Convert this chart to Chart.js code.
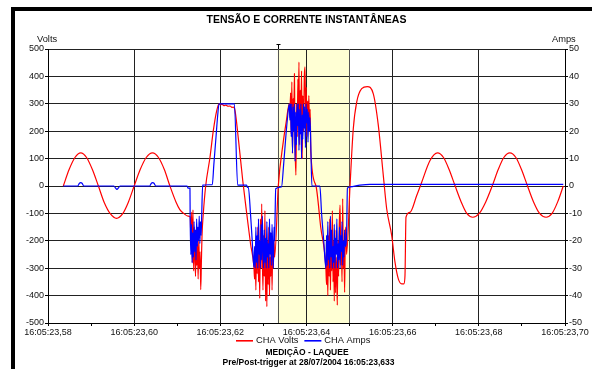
<!DOCTYPE html>
<html>
<head>
<meta charset="utf-8">
<title>Tensão e corrente instantâneas</title>
<script src="https://cdn.jsdelivr.net/npm/chart.js@4/dist/chart.umd.min.js"></script>
<style>
  html, body { margin: 0; padding: 0; background: #fff; }
  canvas { display: block; }
</style>
</head>
<body>
<canvas id="chart" width="592" height="369"></canvas>
<script>
// ---- Texts ----
const chartTitle = 'TENSÃO E CORRENTE INSTANTÂNEAS';
const footerLines = ['MEDIÇÃO - LAQUEE', 'Pre/Post-trigger at 28/07/2004 16:05:23,633'];
const leftUnit = 'Volts';
const rightUnit = 'Amps';
const seriesNames = ['CHA Volts', 'CHA Amps'];

// Time axis: milliseconds after 16:05:23,58, labelled every 20 ms
const timeLabels = ['16:05:23,58', '16:05:23,60', '16:05:23,62', '16:05:23,64',
                    '16:05:23,66', '16:05:23,68', '16:05:23,70'];

// Trigger instant and the end of the cycle that follows it (ms)
const triggerMs = 53.3;
const cycleEndMs = 69.9;

// ---- CHA Volts: [ms, V] ----
const voltsBefore = [
  [3.55, 0], [4.9, 60], [6.25, 104], [7.6, 121], [8.95, 104], [10.3, 60], [11.7, 0],
  [13.05, -60], [14.5, -102], [15.9, -118], [17.3, -102], [18.65, -59], [20.0, 0],
  [21.4, 60], [22.8, 104], [24.25, 121], [25.65, 104], [27.0, 60], [28.3, 0],
  [29.7, -58], [30.6, -86], [31.5, -100], [32.5, -110], [33.0, -113]
];
const voltsFault = [
  [33.2, -200], [33.35, -95], [33.5, -280], [33.65, -87], [33.8, -310], [33.95, -150],
  [34.1, -260], [34.25, -330], [34.4, -170], [34.55, -290], [34.7, -210], [34.85, -340],
  [35.0, -190], [35.15, -300], [35.3, -240], [35.45, -378], [35.6, -280], [35.75, -180],
  [36.05, -100], [36.6, 0], [37.6, 105], [38.37, 202], [39.16, 275], [39.7, 300],
  [40.0, 296], [40.4, 299], [40.8, 293], [41.3, 295], [41.8, 291], [42.25, 292],
  [42.7, 287], [43.0, 288], [43.3, 283],
  [44.2, 170], [45.2, 20], [46.2, -110], [47.0, -210], [47.8, -296],
  [47.95, -340], [48.1, -250], [48.25, -380], [48.4, -200], [48.55, -320], [48.7, -150],
  [48.85, -350], [49.0, -230], [49.15, -410], [49.3, -120], [49.45, -300], [49.6, -65],
  [49.75, -260], [49.9, -380], [50.05, -180], [50.2, -330], [50.35, -90], [50.5, -420],
  [50.65, -250], [50.8, -440], [50.95, -200], [51.1, -360], [51.25, -150], [51.4, -400],
  [51.55, -260], [51.7, -330], [51.85, -170], [52.0, -380], [52.15, -230], [52.3, -300],
  [52.45, -200], [52.6, -260],
  [53.45, 0], [54.6, 160], [55.3, 235], [56.0, 300],
  [56.15, 250], [56.3, 340], [56.45, 190], [56.6, 380], [56.75, 120], [56.9, 320],
  [57.05, 230], [57.2, 410], [57.35, 150], [57.55, 40], [57.7, 300], [57.85, 180],
  [58.0, 390], [58.1, 260], [58.25, 452], [58.4, 150], [58.55, 350], [58.7, 220],
  [58.85, 420], [59.0, 100], [59.15, 330], [59.3, 200], [59.5, 400], [59.65, 435],
  [59.8, 270], [59.95, 360], [60.1, 180], [60.25, 310], [60.4, 240], [60.55, 330],
  [60.7, 200], [60.85, 280], [61.0, 123],
  [62.2, 0], [63.3, -150], [64.5, -300],
  [64.65, -360], [64.8, -250], [64.95, -400], [65.1, -180], [65.25, -330], [65.4, -120],
  [65.55, -380], [65.7, -220], [65.85, -310], [66.0, -90], [66.15, -350], [66.3, -200],
  [66.45, -420], [66.6, -160], [66.75, -390], [66.9, -260], [67.05, -330], [67.15, -435],
  [67.3, -200], [67.45, -330], [67.6, -150], [67.8, -70], [67.95, -290], [68.1, -200],
  [68.25, -350], [68.4, -46], [68.55, -300], [68.7, -220], [68.85, -388], [69.0, -180],
  [69.15, -150], [69.3, -250]
];
const voltsAfter = [
  [70.1, 0], [70.86, 209], [71.65, 306], [72.81, 355], [74.11, 363], [75.51, 336],
  [76.67, 221], [77.83, 38], [78.61, -83], [79.78, -181], [80.54, -278], [81.31, -339],
  [82.1, -357], [82.63, -357], [82.86, -327], [83.09, -114], [84.02, -96], [85.58, -35],
  [86.74, 14], [88.67, 93], [90.4, 121], [91.8, 104], [93.1, 60], [94.5, 0],
  [95.9, -58], [97.2, -100], [98.6, -114], [100.1, -100], [101.6, -58], [103.1, 0],
  [104.5, 60], [105.8, 104], [107.2, 121], [108.6, 104], [109.9, 60], [111.3, 0],
  [112.7, -58], [114.1, -100], [115.6, -114], [117.0, -100], [118.3, -58], [119.6, 0]
];

// ---- CHA Amps: [ms, A] ----
const ampsBefore = [
  [3.55, 0], [6.9, 0], [7.3, 1.0], [7.6, 1.2], [7.9, 1.0], [8.3, 0],
  [15.3, 0], [15.7, -0.8], [16.0, -1.2], [16.3, -0.8], [16.7, 0],
  [23.6, 0], [24.0, 1.0], [24.3, 1.2], [24.6, 1.0], [25.0, 0],
  [32.3, 0], [32.5, -0.8], [32.95, -0.8]
];
const ampsFault = [
  [33.0, -12], [33.15, -25], [33.3, -14], [33.45, -28], [33.6, -17], [33.75, -26],
  [33.9, -13], [34.05, -24], [34.2, -16], [34.35, -27], [34.5, -12], [34.65, -22],
  [34.8, -15], [34.95, -20], [35.1, -11], [35.25, -21], [35.4, -13], [35.55, -18],
  [35.67, -11], [35.9, 0.3], [38.14, 0.5], [38.5, 8], [39.0, 18], [39.4, 26], [39.7, 30],
  [43.25, 30], [44.03, 0.3], [46.1, 0.3], [46.3, -0.5], [46.5, -0.5],
  [47.0, -10], [47.4, -20], [47.8, -29.6],
  [47.95, -22], [48.1, -30], [48.25, -15], [48.4, -28], [48.55, -18], [48.7, -30],
  [48.85, -12], [49.0, -25], [49.15, -20], [49.3, -30], [49.45, -14], [49.6, -27],
  [49.75, -11], [49.9, -24], [50.05, -30], [50.2, -16], [50.35, -28], [50.5, -19],
  [50.65, -30], [50.8, -13], [50.95, -26], [51.1, -21], [51.25, -30], [51.4, -12],
  [51.55, -25], [51.7, -17], [51.85, -29], [52.0, -14], [52.15, -23], [52.3, -30],
  [52.45, -15], [52.6, -20], [52.7, -12], [52.85, -1], [54.2, -0.3],
  [54.7, 8], [55.2, 18], [55.6, 25], [56.0, 30],
  [56.15, 24], [56.3, 30], [56.45, 18], [56.6, 30], [56.75, 12], [56.9, 29],
  [57.05, 20], [57.2, 30], [57.35, 9], [57.5, 27], [57.65, 15], [57.8, 30],
  [57.95, 22], [58.1, 30], [58.25, 13], [58.4, 28], [58.55, 19], [58.7, 30],
  [58.85, 10], [59.0, 26], [59.15, 17], [59.3, 30], [59.45, 21], [59.6, 29],
  [59.75, 14], [59.9, 30], [60.05, 23], [60.2, 28], [60.35, 16], [60.5, 27],
  [60.65, 20], [60.8, 25], [61.0, 15], [61.25, 0],
  [63.1, 0], [63.5, -10], [64.0, -20], [64.5, -30],
  [64.65, -18], [64.8, -29], [64.95, -13], [65.1, -27], [65.25, -20], [65.4, -30],
  [65.55, -11], [65.7, -26], [65.85, -16], [66.0, -30], [66.15, -22], [66.3, -28],
  [66.45, -14], [66.6, -30], [66.75, -19], [66.9, -25], [67.05, -12], [67.2, -30],
  [67.35, -21], [67.5, -27], [67.65, -15], [67.8, -30], [67.95, -18], [68.1, -24],
  [68.25, -13], [68.4, -29], [68.55, -20], [68.7, -26], [68.85, -16], [69.0, -22],
  [69.3, -18]
];
const ampsAfter = [
  [69.5, -0.8], [70.1, -0.3], [72.4, 0.3], [74.7, 0.6], [119.6, 0.6]
];

const toPoints = rows => rows.map(([x, y]) => ({ x, y }));
const voltsData = toPoints([...voltsBefore, ...voltsFault, ...voltsAfter]);
const ampsData = toPoints([...ampsBefore, ...ampsFault, ...ampsAfter]);

const FONT = '"Liberation Sans", Arial, Helvetica, sans-serif';
Chart.defaults.font.family = FONT;
Chart.defaults.color = '#000';

const GRID = '#222';
const CLEAR = 'rgba(0,0,0,0)';

// Page decorations: background, trigger window, frame, title, units, legend, footer
const decorations = {
  id: 'decorations',
  beforeDraw(chart) {
    const { ctx, chartArea: a, scales: { x } } = chart;
    ctx.save();
    ctx.fillStyle = '#fff';
    ctx.fillRect(0, 0, chart.width, chart.height);
    const x0 = x.getPixelForValue(triggerMs);
    const x1 = x.getPixelForValue(cycleEndMs);
    ctx.fillStyle = '#FFFFD4';
    ctx.fillRect(x0, a.top, x1 - x0, a.bottom - a.top);
    ctx.restore();
  },
  beforeDatasetsDraw(chart) {
    const { ctx, chartArea: a, scales: { x } } = chart;
    ctx.save();
    ctx.strokeStyle = '#555';
    ctx.lineWidth = 1;
    [triggerMs, cycleEndMs].forEach(v => {
      const px = Math.round(x.getPixelForValue(v)) + 0.5;
      ctx.beginPath();
      ctx.moveTo(px, a.top);
      ctx.lineTo(px, a.bottom);
      ctx.stroke();
    });
    ctx.restore();
  },
  afterDraw(chart) {
    const { ctx, chartArea: a, scales: { x } } = chart;
    const cx = (a.left + a.right) / 2;
    ctx.save();

    // frame
    ctx.fillStyle = '#000';
    ctx.fillRect(11, 7, chart.width - 11, 4);
    ctx.fillRect(11, 7, 4, chart.height - 7);

    // trigger marker above the plot
    const tx = Math.round(x.getPixelForValue(triggerMs)) + 0.5;
    ctx.strokeStyle = '#000';
    ctx.lineWidth = 1;
    ctx.beginPath();
    ctx.moveTo(tx, a.top - 5);
    ctx.lineTo(tx, a.top);
    ctx.moveTo(tx - 2, a.top - 4.5);
    ctx.lineTo(tx + 2, a.top - 4.5);
    ctx.stroke();

    // title
    ctx.fillStyle = '#000';
    ctx.textBaseline = 'middle';
    ctx.textAlign = 'center';
    ctx.font = 'bold 10.5px ' + FONT;
    ctx.fillText(chartTitle, cx, 20);

    // axis units
    ctx.font = '9.3px ' + FONT;
    ctx.fillStyle = '#111';
    ctx.textAlign = 'left';
    ctx.fillText(leftUnit, 37, 39);
    ctx.fillText(rightUnit, 552, 39);

    // legend
    ctx.font = '9.3px ' + FONT;
    let lx = 236;
    const ly = 340;
    chart.data.datasets.forEach(ds => {
      ctx.strokeStyle = ds.borderColor;
      ctx.lineWidth = 1.6;
      ctx.beginPath();
      ctx.moveTo(lx, ly + 0.8);
      ctx.lineTo(lx + 17, ly + 0.8);
      ctx.stroke();
      ctx.fillStyle = '#111';
      ctx.fillText(ds.label, lx + 20, ly);
      lx += 20 + ctx.measureText(ds.label).width + 6;
    });

    // footer
    ctx.fillStyle = '#000';
    ctx.textAlign = 'center';
    ctx.font = 'bold 8.5px ' + FONT;
    ctx.fillText(footerLines[0], cx + 0.5, 353);
    ctx.fillText(footerLines[1], cx + 2, 363);
    ctx.restore();
  }
};

new Chart(document.getElementById('chart'), {
  type: 'line',
  data: {
    datasets: [
      {
        label: seriesNames[0],
        data: voltsData,
        yAxisID: 'y',
        borderColor: '#FF0000',
        order: 1
      },
      {
        label: seriesNames[1],
        data: ampsData,
        yAxisID: 'y1',
        borderColor: '#0000FF',
        order: 0
      }
    ]
  },
  options: {
    responsive: false,
    animation: false,
    devicePixelRatio: 1,
    parsing: true,
    layout: { padding: { top: 49, left: 0, right: 0, bottom: 0 } },
    plugins: {
      legend: { display: false },
      title: { display: false },
      tooltip: { enabled: false }
    },
    elements: {
      point: { radius: 0 },
      line: { borderWidth: 1.2, cubicInterpolationMode: 'monotone', fill: false }
    },
    scales: {
      x: {
        type: 'linear',
        min: 0,
        max: 120,
        ticks: {
          stepSize: 10,
          autoSkip: false,
          maxRotation: 0,
          minRotation: 0,
          padding: 1,
          font: { size: 9 },
          color: '#111',
          callback: v => (v % 20 === 0 ? timeLabels[v / 20] : '')
        },
        grid: {
          color: c => (c.tick && c.tick.value % 20 === 0 ? GRID : CLEAR),
          tickColor: '#000',
          tickLength: 3,
          lineWidth: 1
        },
        border: { display: true, color: '#000', width: 1 },
        afterFit: s => { s.height = 46; }
      },
      y: {
        type: 'linear',
        position: 'left',
        min: -500,
        max: 500,
        ticks: {
          stepSize: 50,
          padding: 1,
          font: { size: 9 },
          color: '#111',
          callback: v => (v % 100 === 0 ? String(v) : '')
        },
        grid: {
          color: c => (c.tick && c.tick.value % 100 === 0 ? GRID : CLEAR),
          tickColor: '#000',
          tickLength: 3,
          lineWidth: 1
        },
        border: { display: true, color: '#000', width: 1 },
        afterFit: s => { s.width = 48; }
      },
      y1: {
        type: 'linear',
        position: 'right',
        min: -50,
        max: 50,
        ticks: {
          stepSize: 5,
          padding: 1,
          font: { size: 9 },
          color: '#111',
          callback: v => (v % 10 === 0 ? String(v) : '')
        },
        grid: {
          drawOnChartArea: false,
          color: '#000',
          tickColor: '#000',
          tickLength: 3
        },
        border: { display: true, color: '#000', width: 1 },
        afterFit: s => { s.width = 27; }
      }
    }
  },
  plugins: [decorations]
});
</script>
</body>
</html>
